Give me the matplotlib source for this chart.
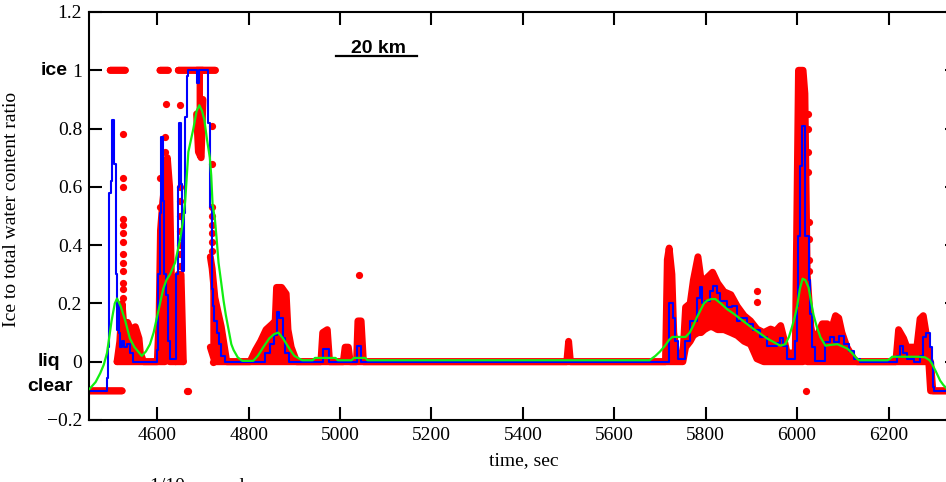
import numpy as np
import matplotlib
matplotlib.use('Agg')
import matplotlib.pyplot as plt
import matplotlib.transforms as mtransforms

nan = np.nan

# ---- red samples: envelope of the dense dot clouds (NaN = break) ----
red_t = [4451, 4523, nan,
         4497, 4530, nan,
         4606, 4624, nan,
         4646, 4727, nan,
         4512, 4518, 4523, 4528, 4535, 4542, 4552, 4560, 4563, 4570, 4600,
         4604, 4607, 4612, 4617, 4622, 4627, 4632, 4636, 4640, 4646, 4652, 4657, nan,
         4686, 4690, 4696, 4700, nan,
         4716, 4720, 4726, 4733, 4740, 4746, 4752, 4803, 4815, 4826, 4838,
         4852, 4858, 4861, 4872, 4882, 4886, 4893, 4905, 4958, 4962, 4972,
         4977, 5007, 5011, 5018, 5022, 5036, 5039, 5046, 5051, 5496, 5500,
         5504, 5712, 5716, 5720, 5726, 5730, 5737, 5750, 5756, 5766, 5773,
         5783, 5790, 5797, 5808, 5815, 5826, 5840, 5855, 5869, 5884, 5898,
         5912, 5927, 5942, 5953, 5964, 5971, 5978, 5996, 6000, 6003, 6013,
         6017, 6022, 6030, 6036, 6044, 6055, 6066, 6073, 6084, 6091, 6098,
         6109, 6124, 6131, 6216, 6222, 6233, 6240, 6262, 6269, 6276, 6283,
         6288, 6292, 6297, 6352]
red_lo = [-0.1, -0.1, nan,
          1, 1, nan,
          1, 1, nan,
          1, 1, nan,
          0, 0, 0, 0, 0, 0, 0, 0, 0, 0, 0,
          0, 0, 0, 0, 0.05, 0, 0, 0, 0, 0, 0, 0, nan,
          0.85, 0.72, 0.70, 0.9, nan,
          0.05, 0.03, 0, 0, 0, 0, 0, 0, 0, 0, 0,
          0, 0, 0, 0, 0, 0, 0, 0, 0, 0, 0,
          0, 0, 0, 0, 0, 0, 0, 0, 0, 0, 0,
          0, 0, 0, 0, 0, 0, 0, 0, 0.05, 0.07, 0.09,
          0.1, 0.1, 0.11, 0.12, 0.12, 0.11, 0.11, 0.1, 0.09, 0.07, 0.06,
          0.01, 0, 0, 0, 0, 0, 0, 0, 0, 0, 0,
          0.05, 0, 0, 0, 0, 0, 0, 0, 0, 0, 0,
          0, 0, 0, 0, 0, 0, 0, 0, 0, 0, 0,
          0, -0.1, -0.1, -0.1]
red_hi = [-0.1, -0.1, nan,
          1, 1, nan,
          1, 1, nan,
          1, 1, nan,
          0, 0.07, 0.2, 0.1, 0.135, 0.11, 0.12, 0.08, 0.03, 0, 0,
          0.15, 0.45, 0.55, 0.62, 0.70, 0.6, 0.2, 0.05, 0, 0.3, 0.3, 0, nan,
          1.0, 1.0, 1.0, 1.0, nan,
          0.36, 0.32, 0.22, 0.17, 0.12, 0.06, 0, 0, 0.04, 0.07, 0.11,
          0.13, 0.14, 0.255, 0.255, 0.233, 0.11, 0.05, 0, 0, 0.10, 0.11,
          0, 0, 0.05, 0.05, 0, 0, 0.14, 0.14, 0, 0, 0.07,
          0, 0, 0.35, 0.39, 0.3, 0.1, 0.02, 0.02, 0.187, 0.20, 0.28,
          0.36, 0.28, 0.28, 0.296, 0.307, 0.27, 0.24, 0.23, 0.19, 0.158, 0.14,
          0.112, 0.10, 0.112, 0.105, 0.124, 0.08, 0.03, 0.03, 0.6, 1.0, 1.0,
          0.92, 0.3, 0.12, 0.07, 0.09, 0.13, 0.13, 0.1, 0.158, 0.15, 0.1,
          0.05, 0.01, 0, 0, 0.11, 0.08, 0.05, 0.05, 0.147, 0.158, 0.09,
          0.01, 0.0, -0.1, -0.1]

# isolated red dots
dot_t = [4524, 4524, 4524, 4524, 4524, 4524, 4524, 4524, 4524, 4524, 4524, 4524, 4524,
         4607, 4607, 4620, 4616, 4616,
         4650, 4650, 4650, 4650, 4650, 4650, 4650, 4650, 4650,
         4665, 4668,
         4720, 4720, 4720, 4720, 4720, 4720, 4720, 4720, 4721,
         5041, 5913, 5913,
         6023, 6023, 6024, 6024, 6025, 6025, 6025, 6025, 6020]
dot_y = [0.78, 0.63, 0.60, 0.49, 0.47, 0.44, 0.41, 0.37, 0.34, 0.31, 0.27, 0.25, 0.22,
         0.63, 0.53, 0.886, 0.77, 0.72,
         0.88, 0.60, 0.55, 0.50, 0.45, 0.40, 0.37, 0.33, 0.28,
         -0.1, -0.1,
         0.81, 0.68, 0.53, 0.50, 0.47, 0.44, 0.41, 0.38, 0.0,
         0.296, 0.244, 0.204,
         0.85, 0.80, 0.72, 0.65, 0.48, 0.42, 0.35, 0.31, -0.1]

# ---- blue: 1 s ratio (step) ----
blue_t = [4451, 4490, 4493, 4495, 4499, 4502, 4506, 4509, 4512, 4514, 4516, 4518,
          4523, 4527, 4534, 4540, 4546, 4599, 4602, 4605, 4608, 4612, 4615, 4619,
          4623, 4627, 4642, 4645, 4648, 4652, 4655, 4658, 4661, 4664, 4667, 4686,
          4692, 4712, 4716, 4719, 4722, 4725, 4730, 4735, 4740, 4748, 4836, 4846,
          4855, 4861, 4866, 4874, 4880, 4888, 4963, 4975, 5036, 5045, 5720, 5729,
          5733, 5740, 5755, 5766, 5780, 5788, 5791, 5798, 5809, 5817, 5824, 5831,
          5846, 5857, 5868, 5875, 5890, 5904, 5919, 5933, 5948, 5955, 5963, 5970,
          5977, 5995, 6000, 6003, 6006, 6010, 6017, 6025, 6028, 6032, 6039, 6061,
          6072, 6080, 6091, 6102, 6113, 6124, 6138, 6218, 6225, 6232, 6240, 6255,
          6269, 6276, 6282, 6291, 6295, 6297, 6300, 6352]
blue_y = [-0.1, -0.055, 0.05, 0.58, 0.62, 0.83, 0.68, 0.30, 0.11, 0.20, 0.10, 0.05,
          0.07, 0.05, 0.06, 0.03, 0.0, 0.04, 0.30, 0.51, 0.77, 0.55, 0.30, 0.23,
          0.07, 0.01, 0.30, 0.60, 0.82, 0.61, 0.31, 0.51, 0.84, 0.98, 1.0, 0.955,
          1.0, 0.82, 0.53, 0.25, 0.19, 0.14, 0.10, 0.06, 0.02, 0.0, 0.03, 0.06,
          0.09, 0.17, 0.15, 0.08, 0.03, 0.0, 0.045, 0.0, 0.055, 0.0, 0.20, 0.15,
          0.07, 0.01, 0.07, 0.14, 0.22, 0.255, 0.20, 0.21, 0.244, 0.26, 0.235, 0.207,
          0.187, 0.19, 0.14, 0.15, 0.13, 0.11, 0.084, 0.055, 0.055, 0.065, 0.08, 0.055,
          0.01, 0.07, 0.19, 0.43, 0.67, 0.81, 0.43, 0.28, 0.165, 0.05, 0.003, 0.066,
          0.084, 0.066, 0.089, 0.06, 0.038, 0.01, 0.0, 0.02, 0.055, 0.03, 0.01, 0.0,
          0.02, 0.084, 0.10, 0.05, 0.0, -0.088, -0.1, -0.1]

# ---- green: smoothed ratio ----
green_t = [4452, 4465, 4475, 4483, 4490, 4500, 4507, 4512, 4520, 4530, 4540, 4550,
           4566, 4575, 4584, 4592, 4599, 4606, 4613, 4620, 4628, 4639, 4650, 4656,
           4661, 4668, 4679, 4686, 4692, 4698, 4703, 4709, 4715, 4718, 4721, 4726,
           4730, 4734, 4740, 4745, 4750, 4756, 4762, 4767, 4776, 4786, 4810, 4820,
           4832, 4845, 4856, 4865, 4875, 4883, 4891, 4900, 4917, 4940, 4945, 4990,
           4995, 5025, 5030, 5055, 5060, 5677, 5690, 5700, 5711, 5720, 5727, 5756,
           5765, 5773, 5780, 5788, 5796, 5803, 5812, 5821, 5833, 5847, 5861, 5875,
           5890, 5904, 5919, 5934, 5948, 5963, 5974, 5982, 5989, 5995, 6000, 6006,
           6012, 6018, 6025, 6030, 6036, 6043, 6051, 6062, 6075, 6088, 6100, 6110,
           6120, 6131, 6136, 6198, 6203, 6208, 6266, 6280, 6290, 6295, 6304, 6313,
           6320, 6326, 6340]
green_y = [-0.093, -0.07, -0.04, -0.01, 0.03, 0.14, 0.20, 0.217, 0.19, 0.14, 0.08, 0.05,
           0.02, 0.035, 0.06, 0.10, 0.15, 0.20, 0.25, 0.28, 0.30, 0.34, 0.42, 0.48,
           0.55, 0.72, 0.80, 0.86, 0.88, 0.86, 0.83, 0.76, 0.70, 0.64, 0.54, 0.49,
           0.42, 0.34, 0.27, 0.21, 0.16, 0.11, 0.06, 0.04, 0.015, 0.003, 0.003, 0.02,
           0.05, 0.08, 0.095, 0.10, 0.08, 0.06, 0.04, 0.02, 0.005, 0.005, 0.013, 0.013,
           0.005, 0.005, 0.013, 0.013, 0.005, 0.005, 0.02, 0.035, 0.055, 0.075, 0.085, 0.085,
           0.10, 0.125, 0.15, 0.175, 0.20, 0.21, 0.215, 0.215, 0.20, 0.18, 0.165, 0.148,
           0.13, 0.113, 0.097, 0.08, 0.068, 0.055, 0.06, 0.085, 0.12, 0.155, 0.19, 0.25,
           0.285, 0.28, 0.255, 0.21, 0.16, 0.12, 0.084, 0.055, 0.058, 0.06, 0.052, 0.045,
           0.03, 0.01, 0.005, 0.005, 0.01, 0.017, 0.017, 0.015, 0.005, -0.007, -0.035, -0.065,
           -0.08, -0.09, -0.11]

x_ticks = [4600, 4800, 5000, 5200, 5400, 5600, 5800, 6000, 6200]
y_ticks = [-0.2, 0, 0.2, 0.4, 0.6, 0.8, 1, 1.2]
y_tick_labels = ['\u22120.2', '0', '0.2', '0.4', '0.6', '0.8', '1', '1.2']

serif = ['Liberation Serif', 'DejaVu Serif']
sans = ['Liberation Sans', 'DejaVu Sans']

fig = plt.figure(figsize=(9.46, 4.82), dpi=100)
ax = fig.add_axes([89/946, 62/482, 869/946, 408/482])

# red clouds
red_t_a = np.array(red_t, float)
red_lo_a = np.array(red_lo, float)
red_hi_a = np.array(red_hi, float)
ax.fill_between(red_t_a, red_lo_a, red_hi_a, color='red', lw=0, zorder=1)
ax.plot(red_t_a, red_lo_a, color='red', lw=5, solid_capstyle='round',
        solid_joinstyle='round', zorder=1)
ax.plot(red_t_a, red_hi_a, color='red', lw=5, solid_capstyle='round',
        solid_joinstyle='round', zorder=1)
ax.plot(dot_t, dot_y, 'o', color='red', ms=5.2, mec='none', zorder=1)

ax.plot(blue_t, blue_y, color='#0000ff', lw=1.5, drawstyle='steps-post', zorder=2)
ax.plot(green_t, green_y, color='#11ee11', lw=1.6, zorder=3)

ax.set_xlim(4450.6, 6352)
ax.set_ylim(-0.2, 1.2)
ax.set_xticks(x_ticks)
ax.set_yticks(y_ticks)
ax.set_yticklabels(y_tick_labels)
ax.tick_params(direction='in', length=9.5, width=1.5, top=True, right=True,
               labelsize=14, pad=5)
for lab in ax.get_xticklabels() + ax.get_yticklabels():
    lab.set_family(serif)
for s in ax.spines.values():
    s.set_linewidth(1.5)

ax.set_xlabel('time, sec', family=serif, fontsize=14, labelpad=6)
ax.set_ylabel('Ice to total water content ratio', family=serif, fontsize=14)
ax.yaxis.set_label_coords(-0.079, 0.515)

# category labels on the left
tr = mtransforms.blended_transform_factory(fig.transFigure, ax.transData)
fig.text(68/946, 1.0, 'ice', transform=tr, ha='right', va='center',
         family=sans, fontweight='bold', fontsize=14)
fig.text(60/946, 0.0, 'liq', transform=tr, ha='right', va='center',
         family=sans, fontweight='bold', fontsize=14)
fig.text(73/946, -0.085, 'clear', transform=tr, ha='right', va='center',
         family=sans, fontweight='bold', fontsize=14)

# scale bar
ax.text(0.3337, 0.8995, '20 km', transform=ax.transAxes, ha='center', va='baseline',
        family=sans, fontweight='bold', fontsize=14)
ax.plot([0.2842, 0.3774], [0.893, 0.893], transform=ax.transAxes, color='black', lw=1.6)

fig.text(150/946, -9/482, '1/10 second', ha='left', va='baseline',
         family=serif, fontsize=14)

fig.savefig('out.png', dpi=100)
